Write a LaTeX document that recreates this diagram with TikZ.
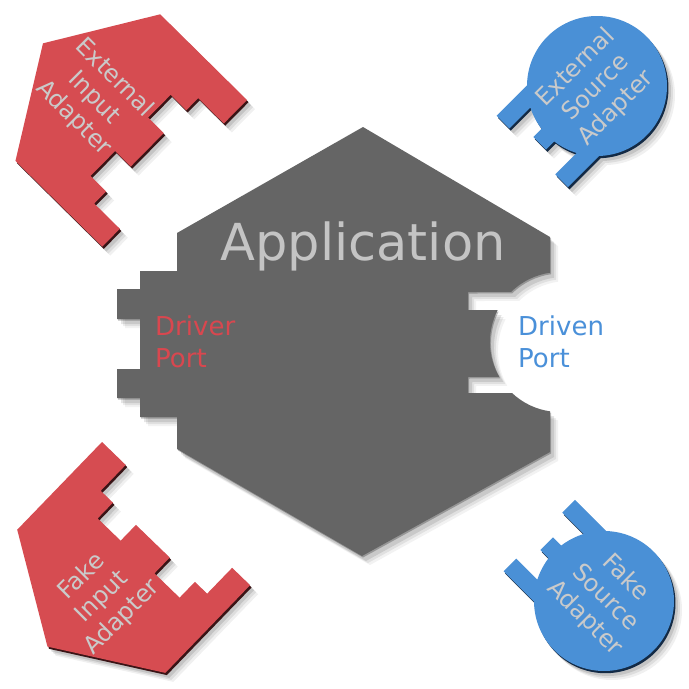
\documentclass[tikz,border=0pt]{standalone}
\usepackage{fontspec}
\setmainfont{DejaVu Sans}
\definecolor{hexgray}{HTML}{656565}
\definecolor{adred}{HTML}{D64C51}
\definecolor{adredd}{HTML}{3A1416}
\definecolor{adblue}{HTML}{4A90D6}
\definecolor{adblued}{HTML}{132A45}
\definecolor{labgray}{HTML}{CACACA}
\definecolor{appgray}{HTML}{C4C4C4}
\definecolor{drvred}{HTML}{D9474F}
\definecolor{drnblue}{HTML}{4A90D9}
\tikzset{
  hexshape/.pic={\path[pic actions] (363,127) -- (550,237) -- (550,272.7)
     arc[start angle=261.8, end angle=225.6, radius=70] -- (468,292) -- (468,310) -- (497.7,310)
     arc[start angle=207.2, end angle=150.2, radius=70] -- (468,377) -- (468,393) -- (512,393)
     arc[start angle=133.3, end angle=98.2, radius=70] -- (550,452) -- (362,556) -- (177,449)
     -- (177,417) -- (140,417) -- (140,398) -- (117,398) -- (117,369) -- (140,369) -- (140,319)
     -- (117,319) -- (117,289) -- (140,289) -- (140,271) -- (177,271) -- (177,233) -- cycle;},
  redshape/.pic={\path[pic actions] (0,0) -- (33,0) -- (33,36) -- (50,36) -- (50,58) -- (82,58)
     -- (82,36) -- (129,36) -- (129,58) -- (164,58) -- (164,36) -- (181,36) -- (181,0) -- (206,0)
     -- (206,122) -- (103,185) -- (0,122) -- cycle;},
  blueshape/.pic={\path[pic actions] (-45.58:70) -- (92,-50) -- (92,-32) -- (-27.2:70)
     arc[start angle=-27.2, end angle=-7.39, radius=70] -- (81,-9) -- (81,9) -- (7.39:70)
     arc[start angle=7.39, end angle=28.13, radius=70] -- (92,33) -- (92,51) -- (46.77:70)
     arc[start angle=46.77, end angle=314.42, radius=70] -- cycle;},
  adtext/.style={font=\fontsize{24}{28.5}\selectfont, text=labgray, align=center, inner sep=0pt},
  portlabel/.style={font=\fontsize{26}{32}\selectfont, align=left, anchor=north west, inner sep=0pt},
}
\newcommand\piecelayers[3]{%
  \pic[fill=black,opacity=.06,xshift=8pt,yshift=-9pt]{#1};
  \pic[fill=black,opacity=.08,xshift=6pt,yshift=-7pt]{#1};
  \pic[fill=black,opacity=.11,xshift=4pt,yshift=-5pt]{#1};
  \pic[fill=#3,xshift=1.5pt,yshift=-2.2pt]{#1};
  \pic[fill=#2]{#1};}
\begin{document}
\begin{tikzpicture}[x=1pt,y=-1pt]
\useasboundingbox[fill=white] (0,0) rectangle (689,689);
% application hexagon
\pic[fill=black,opacity=.05,xshift=8pt,yshift=-9pt]{hexshape};
\pic[fill=black,opacity=.07,xshift=6pt,yshift=-7pt]{hexshape};
\pic[fill=black,opacity=.10,xshift=4pt,yshift=-5pt]{hexshape};
\pic[fill=black,opacity=.25,xshift=1pt,yshift=-1.5pt]{hexshape};
\pic[fill=hexgray]{hexshape};
% external input adapter
\begin{scope}[shift={(247,100)}, x={(-0.7025pt,-0.7117pt)}, y={(-0.7117pt,0.7025pt)}]
  \piecelayers{redshape}{adred}{adredd}
\end{scope}
% fake input adapter
\begin{scope}[shift={(102,442)}, x={(0.719pt,-0.695pt)}, y={(-0.695pt,-0.719pt)}]
  \piecelayers{redshape}{adred}{adredd}
\end{scope}
% external source adapter
\begin{scope}[shift={(597,86)}, x={(-0.7071pt,-0.7071pt)}, y={(0.7071pt,-0.7071pt)}]
  \piecelayers{blueshape}{adblue}{adblued}
\end{scope}
% fake source adapter
\begin{scope}[shift={(604,601)}, x={(-0.7071pt,0.7071pt)}, y={(0.7071pt,0.7071pt)}]
  \piecelayers{blueshape}{adblue}{adblued}
\end{scope}
% texts
\node[font=\fontsize{51}{60}\selectfont, text=appgray, anchor=base] (app) at (363,260) {Application};
\node[portlabel, text=drvred] (driver) at (155,316) {Driver\\Port};
\node[portlabel, text=drnblue] (driven) at (518,316) {Driven\\Port};
\node[adtext, rotate=-45] (eia) at (94,98) {External\\Input\\Adapter};
\node[adtext, rotate=45] (esa) at (596,88) {External\\Source\\Adapter};
\node[adtext, rotate=45] (fia) at (102,597) {Fake\\Input\\Adapter};
\node[adtext, rotate=-45] (fsa) at (605,598) {Fake\\Source\\Adapter};
\end{tikzpicture}
\end{document}
